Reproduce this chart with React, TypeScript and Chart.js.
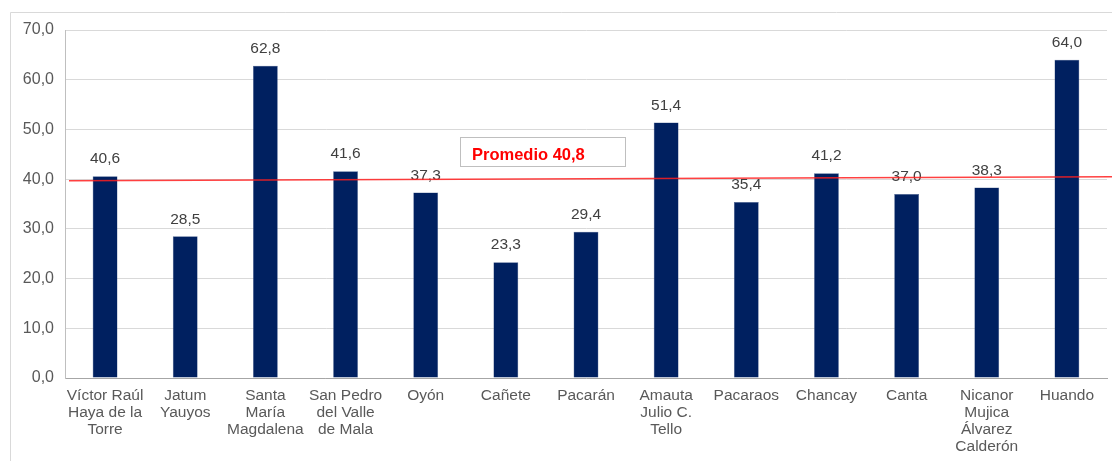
import React, { useEffect, useRef } from "react";
import { Chart, registerables } from "chart.js";

Chart.register(...registerables);

const categories: string[][] = [
  ["Víctor Raúl", "Haya de la", "Torre"],
  ["Jatum", "Yauyos"],
  ["Santa", "María", "Magdalena"],
  ["San Pedro", "del Valle", "de Mala"],
  ["Oyón"],
  ["Cañete"],
  ["Pacarán"],
  ["Amauta", "Julio C.", "Tello"],
  ["Pacaraos"],
  ["Chancay"],
  ["Canta"],
  ["Nicanor", "Mujica", "Álvarez", "Calderón"],
  ["Huando"],
];
const values: number[] = [40.6, 28.5, 62.8, 41.6, 37.3, 23.3, 29.4, 51.4, 35.4, 41.2, 37.0, 38.3, 64.0];
const yTicks: number[] = [0, 10, 20, 30, 40, 50, 60, 70];
const promedioLabel = "Promedio 40,8";
// drawn average line: value at left end, value at right end (slightly tilted as in source)
const promedioLine: number[] = [39.7, 40.5];

const FONT = "'Liberation Sans', Arial, sans-serif";
const fmt = (v: number) => v.toFixed(1).replace(".", ",");

const decorPlugin = {
  id: "decor",
  beforeDraw(chart: any) {
    const ctx = chart.ctx;
    ctx.save();
    ctx.fillStyle = "#ffffff";
    ctx.fillRect(0, 0, chart.width, chart.height);
    ctx.strokeStyle = "#d9d9d9";
    ctx.lineWidth = 1;
    ctx.beginPath();
    ctx.moveTo(10.5, chart.height);
    ctx.lineTo(10.5, 12.5);
    ctx.lineTo(chart.width, 12.5);
    ctx.stroke();
    ctx.restore();
  },
  afterDatasetsDraw(chart: any) {
    const ctx = chart.ctx;
    const y = chart.scales.y;
    const area = chart.chartArea;
    // data labels
    const meta = chart.getDatasetMeta(0);
    ctx.save();
    ctx.font = `15.5px ${FONT}`;
    ctx.fillStyle = "#404040";
    ctx.textAlign = "center";
    ctx.textBaseline = "middle";
    meta.data.forEach((bar: any, i: number) => {
      ctx.fillText(fmt(values[i]), bar.x, bar.y - 17);
    });
    // average line
    const x0 = area.left + 4;
    const x1 = chart.width;
    ctx.strokeStyle = "rgba(255,30,30,0.85)";
    ctx.lineWidth = 1.5;
    ctx.beginPath();
    ctx.moveTo(x0, y.getPixelForValue(promedioLine[0]));
    ctx.lineTo(x1, y.getPixelForValue(promedioLine[1]));
    ctx.stroke();
    // label box
    ctx.fillStyle = "#ffffff";
    ctx.fillRect(460, 137, 165, 29);
    ctx.strokeStyle = "#bfbfbf";
    ctx.lineWidth = 1;
    ctx.strokeRect(460.5, 137.5, 165, 29);
    ctx.font = `bold 16.5px ${FONT}`;
    ctx.fillStyle = "#ff0000";
    ctx.textAlign = "left";
    ctx.fillText(promedioLabel, 472, 155);
    ctx.restore();
  },
};

export default function App() {
  const ref = useRef<HTMLCanvasElement | null>(null);
  useEffect(() => {
    if (!ref.current) return;
    const chart = new Chart(ref.current, {
      type: "bar",
      data: {
        labels: categories as any,
        datasets: [
          {
            data: values,
            backgroundColor: "#002060",
            borderColor: "#4d6391",
            borderWidth: 0.5,
            barPercentage: 0.31,
            categoryPercentage: 1,
          },
        ],
      },
      options: {
        animation: false,
        responsive: false,
        maintainAspectRatio: false,
        layout: { padding: { top: 30, right: 5, left: 0, bottom: 0 } },
        plugins: { legend: { display: false }, tooltip: { enabled: false } },
        scales: {
          x: {
            grid: { display: false, drawTicks: false },
            border: { display: true, color: "#a6a6a6", width: 1 },
            ticks: {
              color: "#595959",
              font: { family: FONT, size: 15.5, lineHeight: 1.1 },
              padding: 9,
              maxRotation: 0,
              autoSkip: false,
            },
            afterFit: (s: any) => {
              s.height = 83;
            },
          },
          y: {
            min: 0,
            max: 70,
            afterBuildTicks: (s: any) => {
              s.ticks = yTicks.map((v) => ({ value: v }));
            },
            grid: { color: "#d9d9d9", drawTicks: false },
            border: { display: true, color: "#bfbfbf" },
            ticks: {
              color: "#595959",
              font: { family: FONT, size: 16 },
              padding: 11,
              callback: (v: any) => fmt(Number(v)),
            },
            afterFit: (s: any) => {
              s.width = 65;
            },
          },
        },
      },
      plugins: [decorPlugin],
    });
    return () => chart.destroy();
  }, []);
  return (
    <div style={{ position: "fixed", left: 0, top: 0, width: 1112, height: 461, background: "#fff" }}>
      <canvas ref={ref} width={1112} height={461} style={{ width: 1112, height: 461, display: "block" }} />
    </div>
  );
}
